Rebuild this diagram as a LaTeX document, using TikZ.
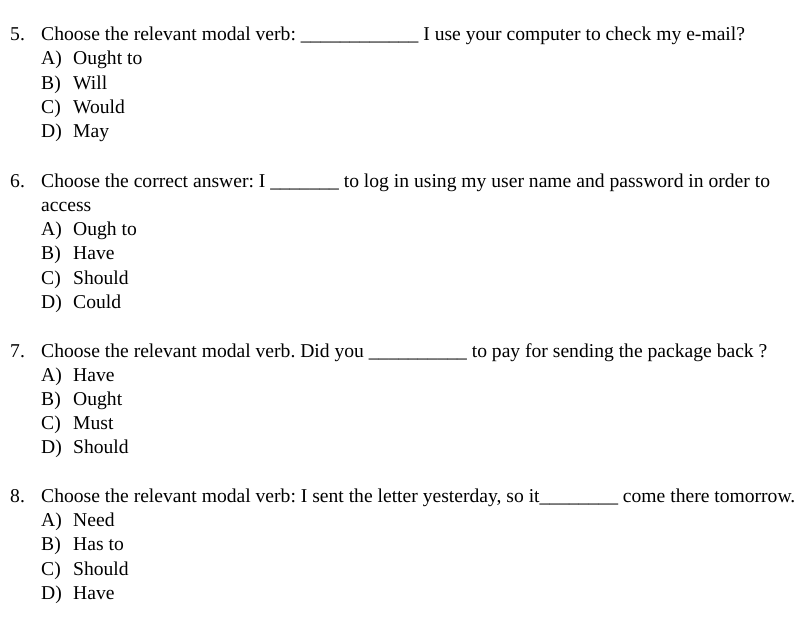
\documentclass[tikz,border=0pt]{standalone}
\usepackage{fontspec}
\setmainfont{Liberation Serif}
\frenchspacing
\begin{document}
\begin{tikzpicture}[x=1pt,y=-1pt,
  txt/.style={anchor=base west,inner sep=0pt,font=\fontsize{19.6}{23}\selectfont\frenchspacing}]
\useasboundingbox (0,0) rectangle (800,622);
% Question 5
\node[txt] (n5) at (10,40) {5.};
\node[txt] (q5) at (41,40) {Choose the relevant modal verb: \_\_\_\_\_\_\_\_\_\_\_\_ I use your computer to check my e-mail?};
\node[txt] (a5l) at (41,64) {A)}; \node[txt] (a5) at (73,64) {Ought to};
\node[txt] (b5l) at (41,89) {B)}; \node[txt] (b5) at (73,89) {Will};
\node[txt] (c5l) at (41,113) {C)}; \node[txt] (c5) at (73,113) {Would};
\node[txt] (d5l) at (41,137) {D)}; \node[txt] (d5) at (73,137) {May};
% Question 6
\node[txt] (n6) at (10,187) {6.};
\node[txt] (q6) at (41,187) {Choose the correct answer: I \_\_\_\_\_\_\_ to log in using my user name and password in order to};
\node[txt] (q6b) at (41,211) {access};
\node[txt] (a6l) at (41,235) {A)}; \node[txt] (a6) at (73,235) {Ough to};
\node[txt] (b6l) at (41,259) {B)}; \node[txt] (b6) at (73,259) {Have};
\node[txt] (c6l) at (41,284) {C)}; \node[txt] (c6) at (73,284) {Should};
\node[txt] (d6l) at (41,308) {D)}; \node[txt] (d6) at (73,308) {Could};
% Question 7
\node[txt] (n7) at (10,357) {7.};
\node[txt] (q7) at (41,357) {Choose the relevant modal verb. Did you \_\_\_\_\_\_\_\_\_\_ to pay for sending the package back ?};
\node[txt] (a7l) at (41,381) {A)}; \node[txt] (a7) at (73,381) {Have};
\node[txt] (b7l) at (41,405) {B)}; \node[txt] (b7) at (73,405) {Ought};
\node[txt] (c7l) at (41,429) {C)}; \node[txt] (c7) at (73,429) {Must};
\node[txt] (d7l) at (41,453) {D)}; \node[txt] (d7) at (73,453) {Should};
% Question 8
\node[txt] (n8) at (10,502) {8.};
\node[txt] (q8) at (41,502) {Choose the relevant modal verb: I sent the letter yesterday, so it\_\_\_\_\_\_\_\_ come there tomorrow.};
\node[txt] (a8l) at (41,526) {A)}; \node[txt] (a8) at (73,526) {Need};
\node[txt] (b8l) at (41,550) {B)}; \node[txt] (b8) at (73,550) {Has to};
\node[txt] (c8l) at (41,575) {C)}; \node[txt] (c8) at (73,575) {Should};
\node[txt] (d8l) at (41,599) {D)}; \node[txt] (d8) at (73,599) {Have};
\end{tikzpicture}
\end{document}
